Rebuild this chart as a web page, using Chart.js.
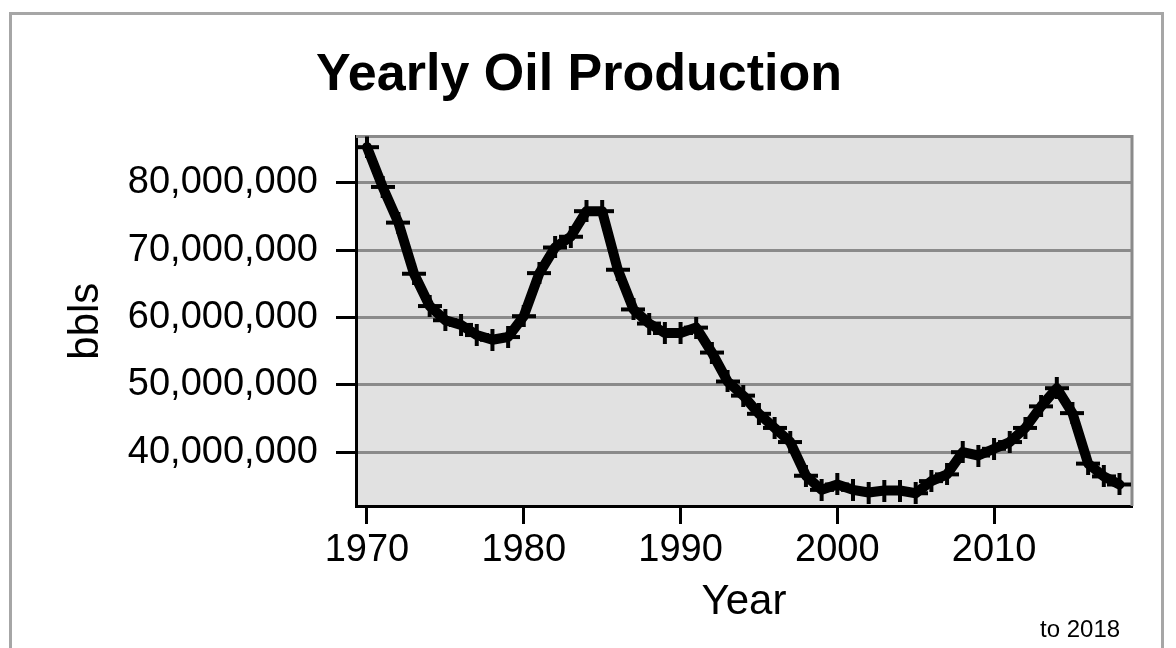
<!DOCTYPE html>
<html>
<head>
<meta charset="utf-8">
<script src="https://cdn.jsdelivr.net/npm/chart.js@4"></script>
<style>
html,body{margin:0;padding:0;background:#fff;}
#wrap{position:relative;width:1176px;height:648px;overflow:hidden;}
#frame{position:absolute;left:9px;top:12px;width:1149px;height:700px;border:3px solid #a6a6a6;}
#c{position:absolute;left:0;top:0;}
#note{position:absolute;left:1040px;top:617px;font-family:"Liberation Sans",Arial,sans-serif;font-size:24px;line-height:24px;color:#000;white-space:nowrap;}
</style>
</head>
<body>
<div id="wrap">
  <div id="frame"></div>
  <canvas id="c" width="1176" height="648"></canvas>
  <div id="note">to 2018</div>
</div>
<script>
const years = [1970,1971,1972,1973,1974,1975,1976,1977,1978,1979,
               1980,1981,1982,1983,1984,1985,1986,1987,1988,1989,
               1990,1991,1992,1993,1994,1995,1996,1997,1998,1999,
               2000,2001,2002,2003,2004,2005,2006,2007,2008,2009,
               2010,2011,2012,2013,2014,2015,2016,2017,2018];
const production = [85300000,79400000,74100000,66500000,61700000,59600000,58900000,57400000,56700000,57100000,
                    60200000,66600000,70400000,72000000,75800000,75800000,67100000,61200000,59100000,57700000,
                    57700000,58500000,54800000,50500000,48400000,45700000,43600000,41500000,36500000,34400000,
                    35200000,34400000,34000000,34300000,34300000,33900000,35700000,36700000,40000000,39500000,
                    40500000,41500000,43600000,46800000,49500000,45800000,38300000,36400000,35200000];
const xTickValues = [1970,1980,1990,2000,2010];
const yTickValues = [40000000,50000000,60000000,70000000,80000000];
const chartTitle = "Yearly Oil Production";
const xTitle = "Year";
const yTitle = "bbls";

const FONT = '"Liberation Sans", Arial, sans-serif';

// cross marker (wider horizontal arm)
const marker = document.createElement('canvas');
marker.width = 24; marker.height = 22;
(function(){
  const m = marker.getContext('2d');
  m.fillStyle = '#000';
  m.fillRect(0, 9, 24, 4);
  m.fillRect(10, 0, 4, 22);
})();

const plotBg = {
  id: 'plotBg',
  beforeDraw(chart) {
    const {ctx, chartArea: a} = chart;
    ctx.save();
    ctx.fillStyle = '#e1e1e1';
    ctx.fillRect(a.left, a.top, a.right - a.left, a.bottom - a.top);
    ctx.restore();
  },
  beforeDatasetsDraw(chart) {
    const {ctx, chartArea: a} = chart;
    ctx.save();
    ctx.strokeStyle = '#8a8a8a';
    ctx.lineWidth = 3;
    ctx.beginPath();
    ctx.moveTo(a.left, a.top);
    ctx.lineTo(a.right, a.top);
    ctx.lineTo(a.right, a.bottom);
    ctx.stroke();
    ctx.restore();
  }
};

new Chart(document.getElementById('c'), {
  type: 'line',
  data: {
    datasets: [{
      data: years.map((y, i) => ({x: y, y: production[i]})),
      borderColor: '#000',
      backgroundColor: '#000',
      borderWidth: 10,
      borderJoinStyle: 'round',
      borderCapStyle: 'round',
      tension: 0,
      pointStyle: marker,
      pointRadius: 12,
      fill: false
    }]
  },
  options: {
    responsive: false,
    devicePixelRatio: 1,
    animation: false,
    layout: {padding: {left: 26, right: 44, top: 0, bottom: 0}},
    plugins: {
      legend: {display: false},
      tooltip: {enabled: false},
      title: {
        display: true,
        text: chartTitle,
        color: '#000',
        font: {family: FONT, size: 52, weight: 'bold', lineHeight: 1.2},
        padding: {top: 44, bottom: 30}
      }
    },
    scales: {
      x: {
        type: 'linear',
        min: 1969.3,
        max: 2018.8,
        afterBuildTicks: s => { s.ticks = xTickValues.map(v => ({value: v})); },
        afterFit: s => { s.height = 142; },
        ticks: {
          color: '#000',
          font: {family: FONT, size: 38},
          padding: 4,
          maxRotation: 0,
          autoSkip: false,
          callback: v => String(v)
        },
        grid: {drawOnChartArea: false, drawTicks: true, tickLength: 18, tickWidth: 3, tickColor: '#000'},
        border: {display: true, color: '#000', width: 3},
        title: {
          display: true, text: xTitle, color: '#000',
          font: {family: FONT, size: 42, lineHeight: 1.2},
          padding: {top: 0, bottom: 20}
        }
      },
      y: {
        type: 'linear',
        min: 32000000,
        max: 86900000,
        afterBuildTicks: s => { s.ticks = yTickValues.map(v => ({value: v})); },
        afterFit: s => { s.width = 330; },
        ticks: {
          color: '#000',
          font: {family: FONT, size: 38},
          padding: 18,
          callback: v => Number(v).toLocaleString('en-US')
        },
        grid: {color: '#8a8a8a', lineWidth: 3, drawTicks: true, tickLength: 20, tickWidth: 3, tickColor: '#000'},
        border: {display: true, color: '#000', width: 3},
        title: {
          display: true, text: yTitle, color: '#000',
          font: {family: FONT, size: 42, lineHeight: 1.2},
          padding: {top: 35, bottom: 0}
        }
      }
    }
  },
  plugins: [plotBg]
});
</script>
</body>
</html>
